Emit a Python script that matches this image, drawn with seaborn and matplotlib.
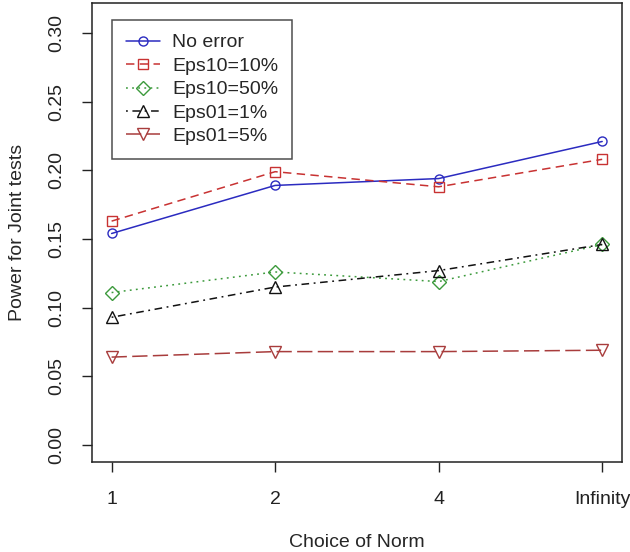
import matplotlib
matplotlib.use("Agg")
import matplotlib.pyplot as plt
import pandas as pd
import seaborn as sns
from matplotlib.lines import Line2D

norms = ["1", "2", "4", "Infinity"]
no_error = [0.154, 0.189, 0.194, 0.221]
eps10_10 = [0.163, 0.199, 0.188, 0.208]
eps10_50 = [0.111, 0.126, 0.119, 0.146]
eps01_1 = [0.093, 0.115, 0.127, 0.146]
eps01_5 = [0.064, 0.068, 0.068, 0.069]

series = ["No error", "Eps10=10%", "Eps10=50%", "Eps01=1%", "Eps01=5%"]
values = [no_error, eps10_10, eps10_50, eps01_1, eps01_5]

colors = ["#2b2bc0", "#c83232", "#3c9a3c", "#111111", "#a83c3c"]
markers = ["o", "s", "D", "^", "v"]
dashes = ["", (5.5, 3.5), (1.2, 2.8), (1.2, 3.0, 5.0, 3.0), (10, 3.5)]
msizes = [6.5, 7, 7, 8, 8]

df = pd.DataFrame(
    [(n, v, s) for s, vals in zip(series, values) for n, v in zip(norms, vals)],
    columns=["norm", "power", "series"],
)

sns.set_style("ticks")
plt.rcParams["font.family"] = ["Liberation Sans", "DejaVu Sans"]

fig = plt.figure(figsize=(6.3, 5.52), dpi=100)
ax = fig.add_axes([0.146, 0.163, 0.841, 0.832])

for s, c, m, d, ms in zip(series, colors, markers, dashes, msizes):
    sns.lineplot(data=df[df["series"] == s], x="norm", y="power", ax=ax,
                 color=c, marker=m, linewidth=1.1, markersize=ms,
                 markerfacecolor="none", markeredgecolor=c, markeredgewidth=1.0,
                 sort=False)
    line = ax.lines[-1]
    if d:
        line.set_dashes(d)

ax.set_xlim(-0.12, 3.12)
ax.set_ylim(-0.0124, 0.322)
ax.set_yticks([0.0, 0.05, 0.10, 0.15, 0.20, 0.25, 0.30])
ax.set_yticklabels(["0.00", "0.05", "0.10", "0.15", "0.20", "0.25", "0.30"],
                   rotation=90, va="center")
ax.tick_params(axis="both", labelsize=14, length=7, width=1, colors="#222222",
               direction="out")
ax.tick_params(axis="x", pad=14)
ax.tick_params(axis="y", pad=12)
for sp in ax.spines.values():
    sp.set_visible(True)
    sp.set_color("#222222")
    sp.set_linewidth(1.1)

ax.set_xlabel("Choice of Norm", fontsize=14, va="center")
ax.xaxis.set_label_coords(0.5, -0.176)
ax.set_ylabel("Power for Joint tests", fontsize=14, va="center")
ax.yaxis.set_label_coords(-0.14, 0.5)

handles = []
for s, c, m, d, ms in zip(series, colors, markers, dashes, msizes):
    h = Line2D([], [], color=c, marker=m, linewidth=1.1, markersize=ms,
               markerfacecolor="none", markeredgecolor=c, markeredgewidth=1.0)
    if d:
        h.set_dashes(d)
    handles.append(h)
leg = ax.legend(handles, series, loc="upper left", bbox_to_anchor=(0.0377, 0.962),
                fontsize=14, frameon=True, fancybox=False, handlelength=1.75,
                handletextpad=0.65, labelspacing=0.3, borderpad=0.7,
                borderaxespad=0)
leg.get_frame().set_edgecolor("#222222")
leg.get_frame().set_linewidth(1.1)

fig.savefig("out.png", dpi=100)
